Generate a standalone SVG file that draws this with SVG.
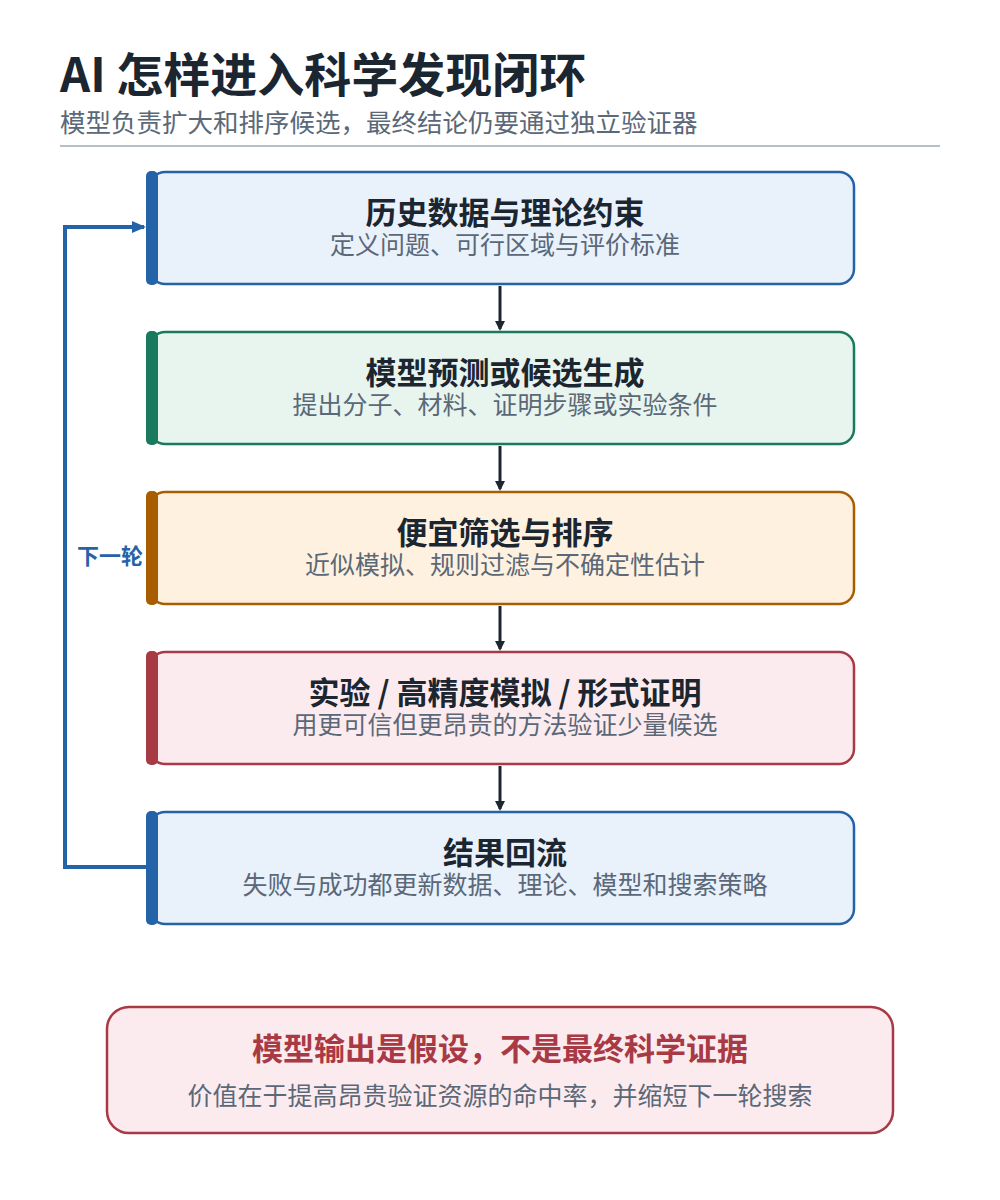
<svg xmlns="http://www.w3.org/2000/svg" width="1000" height="1200" viewBox="0 0 1000 1200">
<defs>
<style>
.t{font-family:"Noto Sans CJK SC","Liberation Sans",sans-serif;}
.h{font-size:31px;font-weight:700;fill:#1b2631;text-anchor:middle;}
.s{font-size:25px;fill:#5a6878;text-anchor:middle;}
.box{stroke-width:2.5;}
</style>
<marker id="ah" markerWidth="10" markerHeight="10" refX="8" refY="5" orient="auto" markerUnits="userSpaceOnUse" viewBox="0 0 10 10">
<path d="M0,0 L10,5 L0,10 z" fill="#1b2631"/>
</marker>
<marker id="ahb" markerWidth="14" markerHeight="14" refX="12" refY="7" orient="auto" markerUnits="userSpaceOnUse" viewBox="0 0 14 14">
<path d="M0,1 L14,7 L0,13 z" fill="#2563a8"/>
</marker>
</defs>
<rect width="1000" height="1200" fill="#ffffff"/>
<text class="t" x="60" y="92" font-size="47" font-weight="700" fill="#1b2631">AI 怎样进入科学发现闭环</text>
<text class="t" x="60" y="132" font-size="25.5" fill="#5a6878">模型负责扩大和排序候选，最终结论仍要通过独立验证器</text>
<line x1="60" y1="146" x2="940" y2="146" stroke="#b4c0cc" stroke-width="2"/>

<g id="connectors">
<line x1="500" y1="286" x2="500" y2="329" stroke="#1b2631" stroke-width="3" marker-end="url(#ah)"/>
<line x1="500" y1="446" x2="500" y2="489" stroke="#1b2631" stroke-width="3" marker-end="url(#ah)"/>
<line x1="500" y1="606" x2="500" y2="649" stroke="#1b2631" stroke-width="3" marker-end="url(#ah)"/>
<line x1="500" y1="766" x2="500" y2="809" stroke="#1b2631" stroke-width="3" marker-end="url(#ah)"/>
<polyline points="146,867 65,867 65,227 144,227" fill="none" stroke="#2563a8" stroke-width="4" marker-end="url(#ahb)"/>
<text class="t" x="110" y="564" font-size="22" font-weight="700" fill="#2563a8" text-anchor="middle">下一轮</text>
</g>

<g id="node1">
<rect class="box" x="150" y="172" width="704" height="112" rx="15" fill="#e9f1fb" stroke="#2563a8"/>
<rect x="146" y="171" width="12" height="114" rx="5" fill="#2563a8"/>
<text class="t h" x="505" y="224">历史数据与理论约束</text>
<text class="t s" x="505" y="254">定义问题、可行区域与评价标准</text>
</g>
<g id="node2">
<rect class="box" x="150" y="332" width="704" height="112" rx="15" fill="#e8f4ee" stroke="#1a7a5e"/>
<rect x="146" y="331" width="12" height="114" rx="5" fill="#1a7a5e"/>
<text class="t h" x="505" y="384">模型预测或候选生成</text>
<text class="t s" x="505" y="414">提出分子、材料、证明步骤或实验条件</text>
</g>
<g id="node3">
<rect class="box" x="150" y="492" width="704" height="112" rx="15" fill="#fef1df" stroke="#a85d00"/>
<rect x="146" y="491" width="12" height="114" rx="5" fill="#a85d00"/>
<text class="t h" x="505" y="544">便宜筛选与排序</text>
<text class="t s" x="505" y="574">近似模拟、规则过滤与不确定性估计</text>
</g>
<g id="node4">
<rect class="box" x="150" y="652" width="704" height="112" rx="15" fill="#fcebee" stroke="#a83a46"/>
<rect x="146" y="651" width="12" height="114" rx="5" fill="#a83a46"/>
<text class="t h" x="505" y="704">实验 / 高精度模拟 / 形式证明</text>
<text class="t s" x="505" y="734">用更可信但更昂贵的方法验证少量候选</text>
</g>
<g id="node5">
<rect class="box" x="150" y="812" width="704" height="112" rx="15" fill="#e9f1fb" stroke="#2563a8"/>
<rect x="146" y="811" width="12" height="114" rx="5" fill="#2563a8"/>
<text class="t h" x="505" y="864">结果回流</text>
<text class="t s" x="505" y="894">失败与成功都更新数据、理论、模型和搜索策略</text>
</g>
<g id="note">
<rect x="107" y="1007" width="786" height="126" rx="22" fill="#fcebee" stroke="#a83a46" stroke-width="2.5"/>
<text class="t" x="500" y="1060" font-size="31" font-weight="700" fill="#a83a46" text-anchor="middle">模型输出是假设，不是最终科学证据</text>
<text class="t s" x="500" y="1105">价值在于提高昂贵验证资源的命中率，并缩短下一轮搜索</text>
</g>
</svg>
